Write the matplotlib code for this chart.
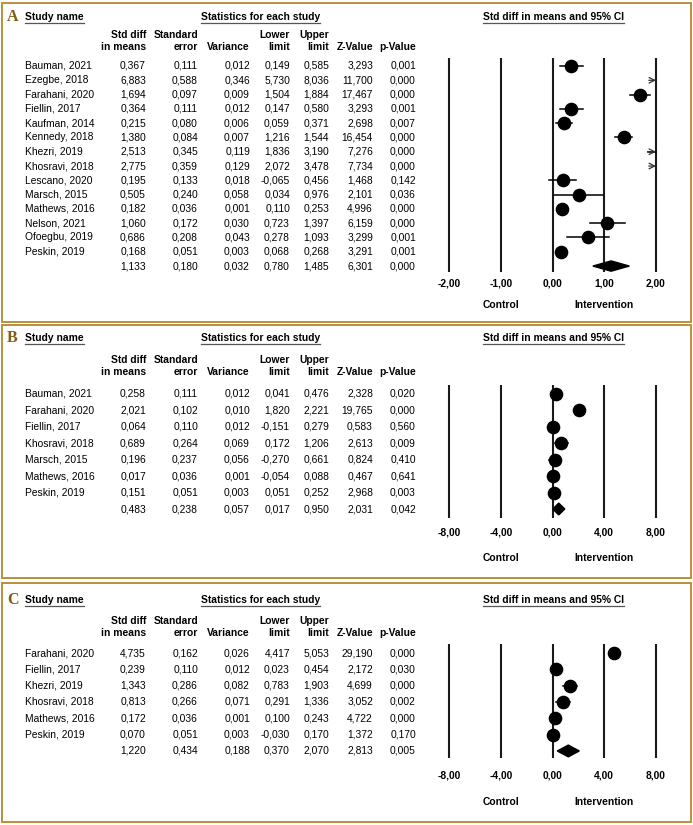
import numpy as np
import matplotlib.pyplot as plt
from matplotlib.patches import Rectangle, Polygon
from matplotlib.lines import Line2D

plt.rcParams['font.family'] = ['Liberation Sans', 'DejaVu Sans']

W, H = 693, 825

# Panel A data (last value of each column = pooled estimate)
a_names = ['Bauman, 2021', 'Ezegbe, 2018', 'Farahani, 2020', 'Fiellin, 2017', 'Kaufman, 2014',
           'Kennedy, 2018', 'Khezri, 2019', 'Khosravi, 2018', 'Lescano, 2020', 'Marsch, 2015',
           'Mathews, 2016', 'Nelson, 2021', 'Ofoegbu, 2019', 'Peskin, 2019']
a_smd = [0.367, 6.883, 1.694, 0.364, 0.215, 1.380, 2.513, 2.775, 0.195, 0.505, 0.182, 1.060, 0.686, 0.168, 1.133]
a_se = [0.111, 0.588, 0.097, 0.111, 0.080, 0.084, 0.345, 0.359, 0.133, 0.240, 0.036, 0.172, 0.208, 0.051, 0.180]
a_var = [0.012, 0.346, 0.009, 0.012, 0.006, 0.007, 0.119, 0.129, 0.018, 0.058, 0.001, 0.030, 0.043, 0.003, 0.032]
a_lo = [0.149, 5.730, 1.504, 0.147, 0.059, 1.216, 1.836, 2.072, -0.065, 0.034, 0.110, 0.723, 0.278, 0.068, 0.780]
a_hi = [0.585, 8.036, 1.884, 0.580, 0.371, 1.544, 3.190, 3.478, 0.456, 0.976, 0.253, 1.397, 1.093, 0.268, 1.485]
a_z = [3.293, 11.700, 17.467, 3.293, 2.698, 16.454, 7.276, 7.734, 1.468, 2.101, 4.996, 6.159, 3.299, 3.291, 6.301]
a_p = [0.001, 0.000, 0.000, 0.001, 0.007, 0.000, 0.000, 0.000, 0.142, 0.036, 0.000, 0.000, 0.001, 0.001, 0.000]
a_ticks = [-2, -1, 0, 1, 2]

# Panel B data
b_names = ['Bauman, 2021', 'Farahani, 2020', 'Fiellin, 2017', 'Khosravi, 2018', 'Marsch, 2015',
           'Mathews, 2016', 'Peskin, 2019']
b_smd = [0.258, 2.021, 0.064, 0.689, 0.196, 0.017, 0.151, 0.483]
b_se = [0.111, 0.102, 0.110, 0.264, 0.237, 0.036, 0.051, 0.238]
b_var = [0.012, 0.010, 0.012, 0.069, 0.056, 0.001, 0.003, 0.057]
b_lo = [0.041, 1.820, -0.151, 0.172, -0.270, -0.054, 0.051, 0.017]
b_hi = [0.476, 2.221, 0.279, 1.206, 0.661, 0.088, 0.252, 0.950]
b_z = [2.328, 19.765, 0.583, 2.613, 0.824, 0.467, 2.968, 2.031]
b_p = [0.020, 0.000, 0.560, 0.009, 0.410, 0.641, 0.003, 0.042]
b_ticks = [-8, -4, 0, 4, 8]

# Panel C data
c_names = ['Farahani, 2020', 'Fiellin, 2017', 'Khezri, 2019', 'Khosravi, 2018', 'Mathews, 2016',
           'Peskin, 2019']
c_smd = [4.735, 0.239, 1.343, 0.813, 0.172, 0.070, 1.220]
c_se = [0.162, 0.110, 0.286, 0.266, 0.036, 0.051, 0.434]
c_var = [0.026, 0.012, 0.082, 0.071, 0.001, 0.003, 0.188]
c_lo = [4.417, 0.023, 0.783, 0.291, 0.100, -0.030, 0.370]
c_hi = [5.053, 0.454, 1.903, 1.336, 0.243, 0.170, 2.070]
c_z = [29.190, 2.172, 4.699, 3.052, 4.722, 1.372, 2.813]
c_p = [0.000, 0.030, 0.000, 0.002, 0.000, 0.170, 0.005]
c_ticks = [-8, -4, 0, 4, 8]

head1 = ['Std diff', 'Standard', '', 'Lower', 'Upper', '', '']
head2 = ['in means', 'error', 'Variance', 'limit', 'limit', 'Z-Value', 'p-Value']

fig = plt.figure(figsize=(W / 100, H / 100), dpi=100)
renderer = fig.canvas.get_renderer()

FS = 7.4
col_right = [146, 198, 250, 290, 329, 373, 416]


def fx(px):
    return px / W


def fy(py):
    return 1 - py / H


def fmt(v):
    return '{:.3f}'.format(v).replace('.', ',')


def underline(t, y_px):
    bb = t.get_window_extent(renderer)
    fig.add_artist(Line2D([bb.x0 / W, bb.x1 / W], [fy(y_px)] * 2, transform=fig.transFigure,
                          color='#555555', lw=0.9))


def panel(letter, names, smd, se, var, lo, hi, z, p, ticks, lay):
    top, bottom = lay['top'], lay['bottom']
    row0, step = lay['row0'], lay['step']
    fig.add_artist(Rectangle((fx(1.5), fy(bottom)), fx(689), (bottom - top) / H,
                             transform=fig.transFigure, fill=False, ec='#b8913a', lw=1.4))
    hy = lay['head']
    fig.text(fx(7), fy(hy), letter, family=['Liberation Serif', 'DejaVu Serif'], weight='bold',
             size=11.5, color='#7d5e12', va='center')
    for x, s in [(25, 'Study name'), (201, 'Statistics for each study'), (483, 'Std diff in means and 95% CI')]:
        t = fig.text(fx(x), fy(hy), s, weight='bold', size=FS, va='center')
        underline(t, hy + 5.5)
    for j, xr in enumerate(col_right):
        fig.text(fx(xr), fy(lay['h1']), head1[j], weight='bold', size=FS, ha='right', va='center')
        fig.text(fx(xr), fy(lay['h2']), head2[j], weight='bold', size=FS, ha='right', va='center')

    n = len(names)
    cols = [smd, se, var, lo, hi, z, p]
    for i in range(n + 1):
        y = row0 + step * i
        if i < n:
            fig.text(fx(25), fy(y), names[i], size=FS, va='center')
        for j, xr in enumerate(col_right):
            fig.text(fx(xr), fy(y), fmt(cols[j][i]), size=FS, ha='right', va='center')

    # forest plot
    ax = fig.add_axes([fx(449), fy(lay['lbot']), (656 - 449) / W, (lay['lbot'] - lay['ltop']) / H])
    x0, x1 = ticks[0], ticks[-1]
    ax.set_xlim(x0, x1)
    ax.set_ylim((lay['lbot'] - row0) / step, (lay['ltop'] - row0) / step)
    ax.axis('off')
    ax.vlines(ticks, *ax.get_ylim(), color='#1a1a1a', lw=1.5, clip_on=False)
    for i in range(n):
        l, h, m = lo[i], hi[i], smd[i]
        if l < x1:
            ax.plot([max(l, x0), min(h, x1)], [i, i], color='black', lw=1.1, clip_on=False, zorder=3)
        if x0 <= m <= x1:
            ax.plot(m, i, 'o', color='black', ms=8.8, clip_on=False, zorder=4)
        if h > x1:
            start = l if l < x1 else x1 - 0.035 * (x1 - x0)
            ax.annotate('', xy=(x1, i), xytext=(start, i),
                        arrowprops=dict(arrowstyle='->', lw=0.9, color='#333333',
                                        shrinkA=0, shrinkB=0))
    k = n
    d = 0.36
    ax.add_patch(Polygon([(lo[k], k), (smd[k], k - d), (hi[k], k), (smd[k], k + d)],
                         closed=True, color='black', clip_on=False, zorder=4))
    ty = (lay['tick'] - row0) / step
    for t in ticks:
        ax.text(t, ty, '{:.2f}'.format(t).replace('.', ','), weight='bold', size=FS,
                ha='center', va='center', clip_on=False)
    cy = (lay['ctrl'] - row0) / step
    ax.text(ticks[1], cy, 'Control', weight='bold', size=FS, ha='center', va='center')
    ax.text(ticks[3], cy, 'Intervention', weight='bold', size=FS, ha='center', va='center')


lay_a = dict(top=3, bottom=322, head=17, h1=35, h2=47, row0=66, step=14.29,
             ltop=58, lbot=272, tick=283, ctrl=305)
lay_b = dict(top=325, bottom=578, head=338, h1=360, h2=372, row0=394, step=16.43,
             ltop=385, lbot=518, tick=532, ctrl=558)
lay_c = dict(top=583, bottom=822, head=600, h1=621, h2=633, row0=653, step=16.33,
             ltop=644, lbot=758, tick=775, ctrl=802)

panel('A', a_names, a_smd, a_se, a_var, a_lo, a_hi, a_z, a_p, a_ticks, lay_a)
panel('B', b_names, b_smd, b_se, b_var, b_lo, b_hi, b_z, b_p, b_ticks, lay_b)
panel('C', c_names, c_smd, c_se, c_var, c_lo, c_hi, c_z, c_p, c_ticks, lay_c)

fig.savefig('out.png', dpi=100)
